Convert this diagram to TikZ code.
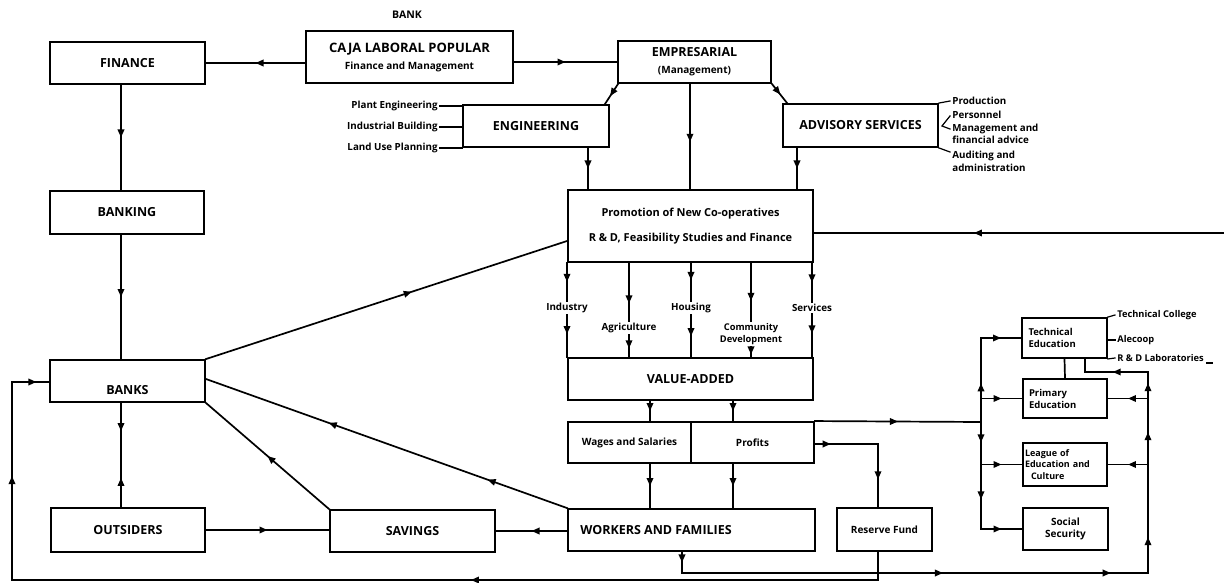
\documentclass[tikz,border=0pt]{standalone}
\usepackage{fontspec}
\setmainfont{Open Sans}
\usetikzlibrary{arrows.meta,decorations.markings,calc}
\begin{document}
\begin{tikzpicture}[x=1pt,y=-1pt,
  line width=1.7pt, line cap=rect,
  big/.style={font=\bfseries\fontsize{12.5}{15}\selectfont},
  md/.style={font=\bfseries\fontsize{10}{12.5}\selectfont},
  sm/.style={font=\bfseries\fontsize{9.8}{12.5}\selectfont},
  box/.style={draw, line width=1.9pt, inner sep=0pt, align=center, big},
  lbl/.style={inner sep=1.5pt, align=center},
  ar/.style={postaction={decorate,decoration={markings,mark=at position #1 with {\arrow{Triangle[length=8pt,width=6.5pt]}}}}},
  ra/.style={postaction={decorate,decoration={markings,mark=at position #1 with {\arrowreversed{Triangle[length=8pt,width=6.5pt]}}}}},
]
\useasboundingbox (0,0) rectangle (1224,583);

% ---------- boxes ----------
\node[lbl, font=\bfseries\fontsize{10.5}{12}\selectfont] (banklbl) at (407,15) {BANK};
\node[box, minimum width=155, minimum height=42] (finance) at (127.5,63) {FINANCE};
\node[box, minimum width=207, minimum height=52] (caja) at (409.5,57)
  {{\fontsize{13}{15}\selectfont CAJA LABORAL POPULAR}\\[2pt]{\fontsize{10}{12}\selectfont Finance and Management}};
\node[box, minimum width=153, minimum height=42] (emp) at (694.5,62)
  {EMPRESARIAL\\[2pt]{\fontsize{10}{12}\selectfont (Management)}};
\node[box, minimum width=146, minimum height=42] (eng) at (536,126) {ENGINEERING};
\node[box, minimum width=155, minimum height=43] (adv) at (860.5,125.5) {ADVISORY SERVICES};
\node[box, minimum width=245, minimum height=72, font=\bfseries\fontsize{11}{14}\selectfont] (promo) at (690.5,226)
  {Promotion of New Co-operatives\\[11pt]R \& D, Feasibility Studies and Finance};
\node[box, minimum width=154, minimum height=43] (banking) at (127,212.5) {BANKING};
\node[box, minimum width=155, minimum height=42] (banks) at (127.5,381) {};
\node[lbl, big] (bankst) at (127.5,390) {BANKS};
\node[box, minimum width=154, minimum height=44] (outs) at (128,530) {OUTSIDERS};
\node[box, minimum width=165, minimum height=42] (sav) at (412.5,531) {SAVINGS};
\node[box, minimum width=247, minimum height=42] (work) at (691.5,530) {};
\node[lbl, big, anchor=west] (workt) at (578,530) {WORKERS AND FAMILIES};
\node[box, minimum width=245, minimum height=42] (va) at (690.5,379) {VALUE-ADDED};
\node[box, minimum width=123, minimum height=41, md] (wages) at (629.5,442.5) {Wages and Salaries};
\node[box, minimum width=123, minimum height=41, md] (prof) at (752.5,442.5) {Profits};
\node[box, minimum width=95, minimum height=43, md] (res) at (884.5,529.5) {Reserve Fund};
\node[box, minimum width=85, minimum height=40, align=left, text width=72pt, font=\bfseries\fontsize{9.5}{12}\selectfont] (tech) at (1064.5,338) {Technical\\Education};
\node[box, minimum width=84, minimum height=39, align=left, text width=72pt, font=\bfseries\fontsize{9.5}{12}\selectfont] (primary) at (1065,398.5) {Primary\\Education};
\node[box, minimum width=84, minimum height=43, align=left, text width=80pt, font=\bfseries\fontsize{9}{11.5}\selectfont] (league) at (1065,464.5) {League of\\Education and\\\ \ Culture};
\node[box, minimum width=85, minimum height=42, md] (social) at (1065.5,529) {Social\\Security};

% ---------- side labels ----------
\node[lbl, sm, anchor=east] (pe) at (440,106) {Plant Engineering};
\node[lbl, sm, anchor=east] (ib) at (440,127) {Industrial Building};
\node[lbl, sm, anchor=east] (lu) at (440,148) {Land Use Planning};
\node[lbl, sm, anchor=west] (prod) at (950,101) {Production};
\node[lbl, sm, anchor=north west, align=left] (pers) at (950,109) {Personnel\\Management and\\financial advice};
\node[lbl, sm, anchor=north west, align=left] (aud) at (950,149) {Auditing and\\administration};
\node[lbl, anchor=west, font=\bfseries\fontsize{9.3}{10}\selectfont] (tc) at (1115,315) {Technical College};
\node[lbl, anchor=west, font=\bfseries\fontsize{9.3}{10}\selectfont] (alc) at (1115,340) {Alecoop};
\node[lbl, anchor=west, font=\bfseries\fontsize{9.3}{10}\selectfont] (rdl) at (1115,358) {R \& D Laboratories};

\draw (pe.east) -- (pe.east -| eng.west);
\draw (ib.east) -- (ib.east -| eng.west);
\draw (lu.east) -- (lu.east -| eng.west);
\draw[line width=1.2pt] (adv.north east) -- (prod.west);
\draw[line width=1.2pt] ([yshift=-7pt]pers.north west) -- (942,126) -- ([yshift=-20pt]pers.north west);
\draw[line width=1.2pt] (adv.south east) -- ([yshift=-3pt]aud.north west);
\draw[line width=1.2pt] (tech.north east) -- (tc.west);
\draw[line width=1.2pt] (tech.east |- alc.west) -- (alc.west);
\draw[line width=1.2pt] (tech.south east) -- (rdl.west);
\draw[line width=1.2pt] ([yshift=1pt]rdl.south east) -- ++(6,0);

% ---------- helper coordinates ----------
\coordinate (xl) at (121,0);
\coordinate (xm) at (690,0);
\coordinate (xe) at (588,0);
\coordinate (xa) at (797,0);
\coordinate (xw) at (650,0);
\coordinate (xp) at (733,0);
\coordinate (redge) at (1224,233);

% ---------- top part ----------
\draw[ar=0.5] (caja.west |- finance.east) -- (finance.east);
\draw[ar=0.5] (caja.east |- emp.west) -- (emp.west);
\draw[ar=0.5] (finance.south -| xl) -- (banking.north -| xl);
\draw[ar=0.5] (banking.south -| xl) -- (banks.north -| xl);
\draw[ar=0.27, ra=0.72] (banks.south -| xl) -- (outs.north -| xl);
\draw[ar=0.5] (outs.east) -- (outs.east -| sav.west);
\draw[ar=0.5] (work.west |- sav.east) -- (sav.east);
\draw[ar=0.5] (sav.north west) -- (banks.south east);
\draw[ar=0.22, ar=0.66] (work.north west) -- ([yshift=2pt]banks.east);
\draw[ar=0.57] (banks.north east) -- ([yshift=-15pt]promo.west);
\draw[ar=0.61] (redge) -- (redge -| promo.east);
\draw[ar=0.6] ([xshift=1pt]emp.south west) -- ([xshift=-5pt]eng.north east);
\draw[ar=0.55] (emp.south east) -- ([xshift=5pt]adv.north west);
\draw[ar=0.55] (emp.south -| xm) -- (promo.north -| xm);
\draw[ar=0.5] (eng.south -| xe) -- (promo.north -| xe);
\draw[ar=0.5] (adv.south -| xa) -- (promo.north -| xa);

% ---------- sectors ----------
\node[lbl, sm] (ind) at (567,308) {Industry};
\node[lbl, sm] (agr) at (629,328) {Agriculture};
\node[lbl, sm] (hou) at (691,308) {Housing};
\node[lbl, font=\bfseries\fontsize{9.3}{11.5}\selectfont] (com) at (751,334) {Community\\Development};
\node[lbl, sm] (ser) at (812,308) {Services};
\draw[ar=0.5] (promo.south -| ind) -- (ind.north);
\draw[ar=0.45] (ind.south) -- (va.north -| ind);
\draw[ar=0.7] (promo.south -| agr) -- (agr.north);
\draw[ar=0.6] (agr.south) -- (va.north -| agr);
\draw[ar=0.45] (promo.south -| hou) -- (hou.north);
\draw[ar=0.5] (hou.south) -- (va.north -| hou);
\draw[ar=0.65] (promo.south -| com) -- (com.north);
\draw[ar=0.75] (com.south) -- (va.north -| com);
\draw[ar=0.5] (promo.south -| ser) -- (ser.north);
\draw[ar=0.45] (ser.south) -- (va.north -| ser);

% ---------- distribution ----------
\draw[ar=0.5] (va.south -| xw) -- (wages.north -| xw);
\draw[ar=0.5] (va.south -| xp) -- (prof.north -| xp);
\draw[ar=0.5] (wages.south -| xw) -- (work.north -| xw);
\draw[ar=0.5] (prof.south -| xp) -- (work.north -| xp);

% ---------- education ----------
\coordinate (j) at (981,422);
\draw[ar=0.5] (prof.north east) -- (j);
\draw[ar=0.46] (j) -- (j |- tech.west);
\draw[ar=0.5] (j |- tech.west) -- (tech.west);
\draw[ar=0.5] (j |- primary.west) -- (primary.west);
\draw[ar=0.48] (j) -- (j |- league.west);
\draw[ar=0.5] (j |- league.west) -- (league.west);
\draw[ar=0.54] (j |- league.west) -- (j |- social.west);
\draw[ar=0.5] (j |- social.west) -- (social.west);

\coordinate (wb) at (682,573);
\coordinate (rb) at (1148,573);
\coordinate (rt) at (1148,372);
\coordinate (tb) at (1085,372);
\draw[ar=0.5] (work.south -| wb) -- (wb);
\draw[ar=0.56, ar=0.92] (wb) -- (rb);
\draw[ar=0.33] (rb) -- (rb |- league.east);
\draw[ar=0.49] (rb |- league.east) -- (rb |- primary.east);
\draw[ar=0.58] (rb |- primary.east) -- (rt);
\draw[ar=0.5] (rb |- league.east) -- (league.east);
\draw[ar=0.5] (rb |- primary.east) -- (primary.east);
\draw[ar=0.56] (rt) -- (tb);
\draw (tb) -- (tech.south -| tb);
\draw (tech.south) -- (primary.north);

% ---------- reserve fund and return loop ----------
\coordinate (rc) at (878,444);
\coordinate (rbot) at (878,580);
\coordinate (bl) at (12,580);
\coordinate (tl) at (12,382);
\draw[ar=0.25] (prof.east |- rc) -- (rc);
\draw[ar=0.56] (rc) -- (res.north -| rc);
\draw (res.south -| rc) -- (rbot);
\draw[ar=0.47] (rbot) -- (bl);
\draw[ar=0.525] (bl) -- (tl);
\draw[ar=0.66] (tl) -- (tl -| banks.west);
\end{tikzpicture}
\end{document}
